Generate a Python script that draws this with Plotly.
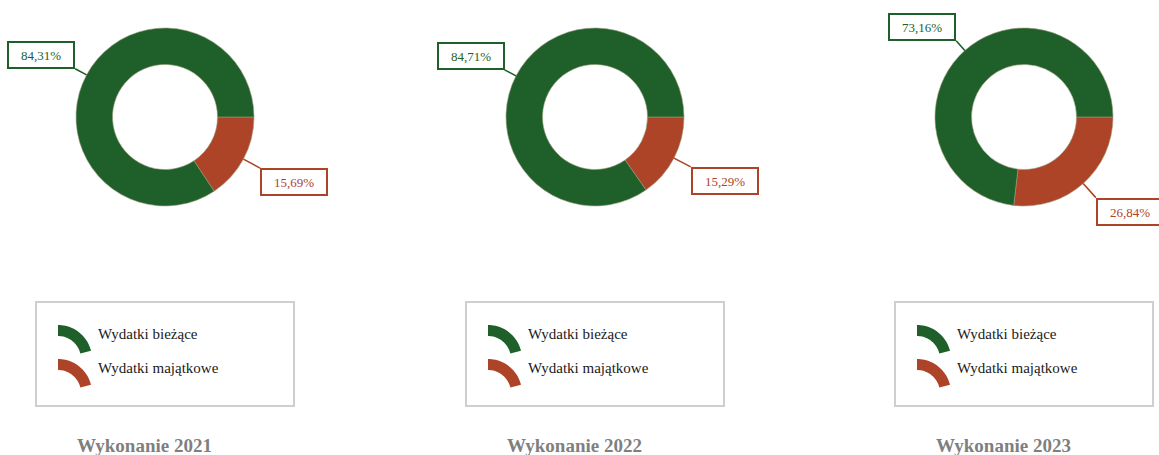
import math
import plotly.graph_objects as go

W, H = 1159, 455
years = ["2021", "2022", "2023"]
categories = ["Wydatki bieżące", "Wydatki majątkowe"]
biezace = [84.31, 84.71, 73.16]
majatkowe = [15.69, 15.29, 26.84]
colors = ["#1e5f2a", "#ad4427"]
titles = ["Wykonanie 2021", "Wykonanie 2022", "Wykonanie 2023"]

# layout in pixels
centers_x = [165, 595, 1024]
center_y = 117
R = 89
hole = 0.59
FONT = "Liberation Serif, Times New Roman, serif"

fig = go.Figure()
annotations = []
shapes = []


def fmt(v):
    return f"{v:.2f}".replace(".", ",") + "%"


def px(x, y):
    return x / W, 1 - y / H


for i, yr in enumerate(years):
    vals = [biezace[i], majatkowe[i]]
    cx = centers_x[i]
    dom_x = [(cx - R) / W, (cx + R) / W]
    dom_y = [1 - (center_y + R) / H, 1 - (center_y - R) / H]
    # slices listed red-first and drawn clockwise from 3 o'clock, so that the
    # green slice runs counterclockwise from 3 o'clock as in the reference
    fig.add_trace(go.Pie(
        labels=categories[::-1], values=vals[::-1], hole=hole, sort=False,
        direction="clockwise", rotation=90,
        marker=dict(colors=colors[::-1], line=dict(color="#9a9a7a", width=0.6)),
        textinfo="none", hoverinfo="label+percent",
        domain=dict(x=dom_x, y=dom_y), showlegend=False,
    ))
    # labels with leader lines (first slice counterclockwise from 3 o'clock)
    total = sum(vals)
    start = 0.0
    for j, v in enumerate(vals):
        frac = v / total
        mid = start + frac / 2
        start += frac
        ang = 2 * math.pi * mid
        ax_px = cx + R * math.cos(ang)
        ay_px = center_y - R * math.sin(ang)
        L = 13 if j == 0 else 19
        dx = L * math.cos(ang)
        dy = -L * math.sin(ang)
        x0, y0 = px(ax_px, ay_px)
        annotations.append(dict(
            x=x0, y=y0, xref="paper", yref="paper",
            text=fmt(v), showarrow=True, arrowhead=0, arrowwidth=1.6,
            arrowcolor=colors[j], ax=dx, ay=dy,
            xanchor="right" if dx < 0 else "left",
            yanchor="bottom" if dy < 0 else "top",
            bordercolor=colors[j], borderwidth=2, borderpad=3,
            bgcolor="white", font=dict(family=FONT, size=13, color=colors[j]),
            width=58, height=18,
        ))
    # legend box
    bl = cx - 129
    x0, y1 = px(bl, 302)
    x1, y0 = px(cx + 129, 406)
    shapes.append(dict(type="rect", xref="paper", yref="paper",
                       x0=x0, x1=x1, y0=y0, y1=y1,
                       line=dict(color="#cfcfcf", width=2), fillcolor="rgba(0,0,0,0)"))
    # legend entries: ring-sector symbol + label
    for j, name in enumerate(categories):
        scx = bl + 22
        scy = 359 + 34 * j
        r_out, r_in = 34, 23
        a0, a1 = 90, 14
        n = 24
        pts = []
        for k in range(n + 1):
            a = math.radians(a0 + (a1 - a0) * k / n)
            pts.append((scx + r_out * math.cos(a), scy - r_out * math.sin(a)))
        for k in range(n + 1):
            a = math.radians(a1 + (a0 - a1) * k / n)
            pts.append((scx + r_in * math.cos(a), scy - r_in * math.sin(a)))
        path = "M " + " L ".join(f"{px(x, y)[0]:.6f},{px(x, y)[1]:.6f}" for x, y in pts) + " Z"
        shapes.append(dict(type="path", xref="paper", yref="paper", path=path,
                           fillcolor=colors[j], line=dict(width=0)))
        tx, ty = px(bl + 60, 334 + 34 * j)
        annotations.append(dict(
            x=tx, y=ty, xref="paper", yref="paper", text=name, showarrow=False,
            xanchor="left", yanchor="middle",
            font=dict(family=FONT, size=15, color="#1a1a1a"),
        ))
    tx, ty = px(cx - 21, 445)
    annotations.append(dict(
        x=tx, y=ty, xref="paper", yref="paper", xanchor="center", yanchor="middle",
        text=f"<b>{titles[i]}</b>", showarrow=False,
        font=dict(family=FONT, size=19, color="#7f7f7f"),
    ))

fig.update_layout(
    width=W, height=H, margin=dict(l=0, r=0, t=0, b=0),
    paper_bgcolor="white", plot_bgcolor="white",
    annotations=annotations, shapes=shapes,
)
fig.write_html("out.html", config={"displayModeBar": False},
               post_script="document.body.style.margin='0';document.body.style.overflow='hidden';")
